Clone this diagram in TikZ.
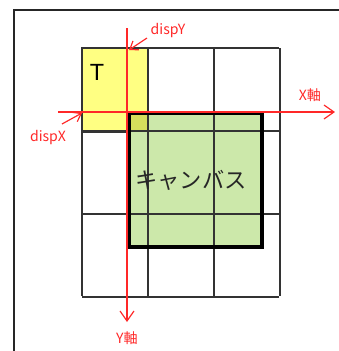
\documentclass[tikz,border=0pt]{standalone}
\usepackage{fontspec}
\setmainfont{Liberation Sans}
\newfontfamily\cjk{Noto Sans CJK JP}
\usetikzlibrary{arrows.meta}
\definecolor{tileyellow}{RGB}{255,255,130}
\definecolor{canvasgreen}{RGB}{204,232,170}
\definecolor{overlapolive}{RGB}{214,222,92}
\definecolor{axisred}{RGB}{255,40,40}
\newcommand{\cellW}{66}
\newcommand{\cellH}{83}
\tikzset{
  frame line/.style={line width=2pt, black!85},
  grid line/.style={line width=0.9pt, black!80},
  tile box/.style={draw=black!80, line width=0.9pt, fill=tileyellow,
    minimum width=66*0.03cm, minimum height=84*0.03cm, inner sep=0pt},
  canvas box/.style={fill=canvasgreen,
    minimum width=133*0.03cm, minimum height=134*0.03cm, inner sep=0pt},
  axis arrow/.style={draw=axisred, line width=1pt,
    -{Straight Barb[length=3mm,width=4.2mm]}},
  hint arrow/.style={draw=axisred, line width=1pt,
    -{Straight Barb[length=2.2mm,width=3.2mm]}},
  axis label/.style={text=axisred, font=\cjk\fontsize{12}{14}\selectfont, inner sep=1pt},
}
\begin{document}
\begin{tikzpicture}[x=0.03cm, y=-0.03cm]
\useasboundingbox (0,0) rectangle (339,351);

% outer frame
\draw[frame line] (14,351) -- (14,10) -- (339,10);

% tile T and canvas
\node[tile box] (tile) at (115,90) {};
\node[canvas box] (canvas) at (195.5,180) {};
\fill[overlapolive] (129,113.5) rectangle (148,132);

% grid
\foreach \i in {0,...,3}
  \draw[grid line] (82+\i*\cellW,48) -- (82+\i*\cellW,296);
\foreach \j in {0,...,3}
  \draw[grid line] (82,48+\j*\cellH) -- (279,48+\j*\cellH);
\draw[line width=3.2pt] (canvas.north west) rectangle (canvas.south east);

% texts
\node[font=\fontsize{20}{22}\selectfont] (tname) at (97,72) {T};
\node[font=\cjk\fontsize{19}{22}\selectfont, text=black!85] (cname) at (191,180) {キャンバス};

% axes
\coordinate (xstart) at (58,112);
\coordinate (xend) at (335,112);
\coordinate (ystart) at (127,28);
\coordinate (yend) at (127,322);
\draw[axis arrow] (xstart) -- (xend);
\draw[axis arrow] (ystart) -- (yend);
\node[axis label] (xlabel) at (310,95) {X軸};
\node[axis label] (ylabel) at (127,338) {Y軸};

% dispX, dispY
\coordinate (dispYpt) at (129,50);
\coordinate (dispYtail) at (147,38);
\coordinate (dispXpt) at (82,113);
\coordinate (dispXtail) at (62,124);
\node[axis label] (dispY) at (168,31) {dispY};
\node[axis label] (dispX) at (48,138) {dispX};
\draw[hint arrow] (dispYtail) -- (dispYpt);
\draw[hint arrow] (dispXtail) -- (dispXpt);
\end{tikzpicture}
\end{document}
